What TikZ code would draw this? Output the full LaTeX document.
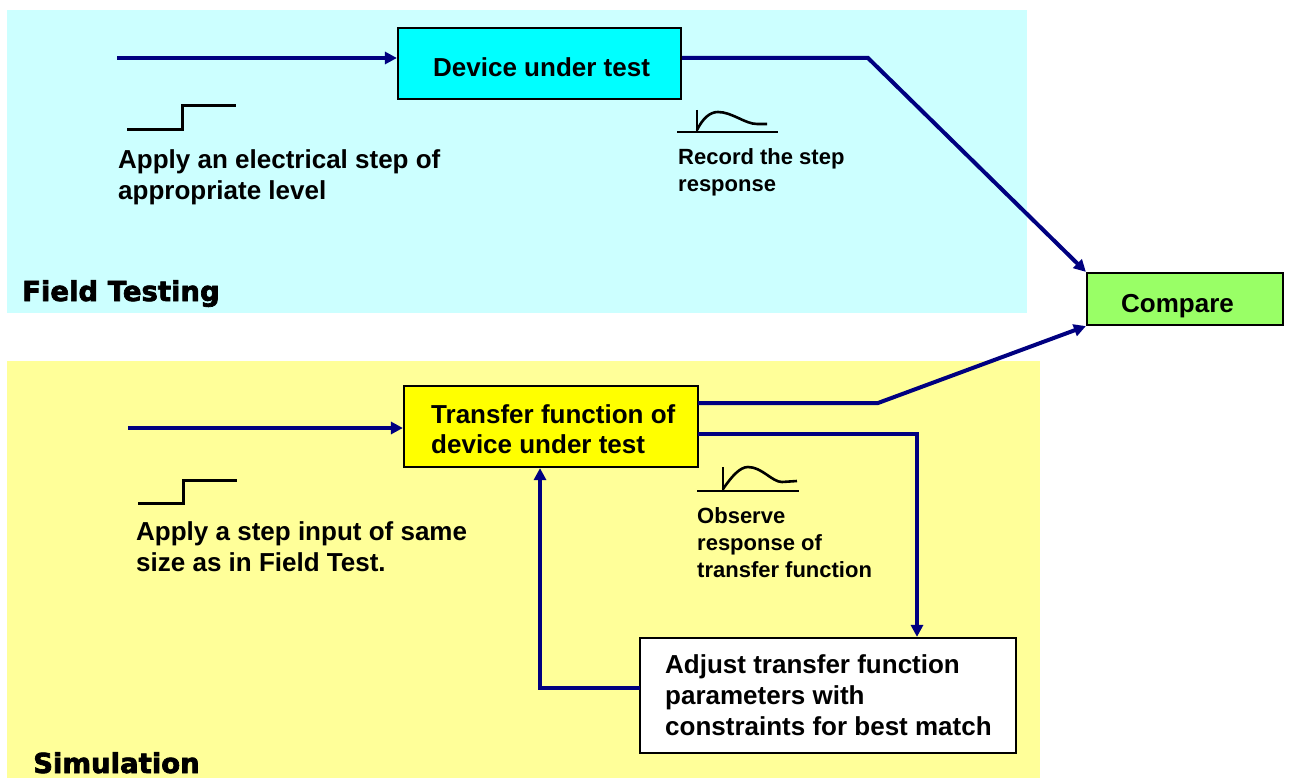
\documentclass[tikz,border=0pt]{standalone}
\usepackage{fontspec}
\setmainfont{Liberation Sans}
\newfontfamily\headfont{DejaVu Sans}[BoldFeatures={FakeBold=2.5}]
\usetikzlibrary{arrows.meta}
\definecolor{cyanbg}{HTML}{CCFFFF}
\definecolor{yellowbg}{HTML}{FFFF99}
\definecolor{dutfill}{HTML}{00FFFF}
\definecolor{tffill}{HTML}{FFFF00}
\definecolor{cmpfill}{HTML}{99FF66}
\definecolor{navy}{HTML}{000080}
\tikzset{
  procbox/.style={draw=black, line width=2.2pt, inner sep=0pt},
  flow/.style={draw=navy, line width=4pt, -{Triangle[length=12pt,width=12pt]}},
  signal/.style={draw=black, line width=3pt},
  resp/.style={draw=black, line width=2.6pt},
  bigtext/.style={font=\bfseries\fontsize{26}{31}\selectfont, inner sep=0pt, align=left, anchor=base west},
  smalltext/.style={font=\bfseries\fontsize{22}{27}\selectfont, inner sep=0pt, align=left, anchor=base west},
  headtext/.style={font=\headfont\bfseries\fontsize{27.5}{32}\selectfont, inner sep=0pt, anchor=base west},
}
\begin{document}
\begin{tikzpicture}[x=1pt,y=-1pt]
\useasboundingbox (0,0) rectangle (1289,778);
\fill[white] (0,0) rectangle (1289,778);
% regions
\fill[cyanbg] (7,10) rectangle (1027,313);
\fill[yellowbg] (7,361) rectangle (1040,778);
% boxes
\node[procbox, fill=dutfill, minimum width=283pt, minimum height=71pt] (dut) at (539.5,63.5) {};
\node[bigtext] (dutt) at (433,77) {Device under test};
\node[procbox, fill=tffill, minimum width=294pt, minimum height=81pt] (tf) at (551,426.5) {};
\node[bigtext, font=\bfseries\fontsize{26}{30}\selectfont] (tft) at (431,453) {Transfer function of\\device under test};
\node[procbox, fill=cmpfill, minimum width=196pt, minimum height=52pt] (cmp) at (1185,299) {};
\node[bigtext] (cmpt) at (1121,312) {Compare};
\node[procbox, fill=white, minimum width=376pt, minimum height=115pt] (adj) at (828,695.5) {};
\node[bigtext] (adjt) at (665,735) {Adjust transfer function\\parameters with\\constraints for best match};
% labels
\node[bigtext] (l1) at (118,199) {Apply an electrical step of\\appropriate level};
\node[smalltext] (l2) at (678,192) {Record the step\\response};
\node[headtext] (fieldt) at (22,301) {Field Testing};
\node[bigtext] (l3) at (136,571) {Apply a step input of same\\size as in Field Test.};
\node[smalltext] (l4) at (697,577) {Observe\\response of\\transfer function};
\node[headtext] (simt) at (33,773) {Simulation};
% coordinates
\coordinate (in1) at (117,58);
\coordinate (b1) at (868,58);
\coordinate (in2) at (128,428);
\coordinate (o2a) at (698,403);
\coordinate (b2) at (878,403);
\coordinate (o2b) at (698,434);
\coordinate (b3) at (917,434);
\coordinate (fb) at (640,688);
\coordinate (b4) at (540,688);
% connectors
\draw[flow] (in1) -- (in1 -| dut.west);
\draw[flow] (dut.east |- b1) -- (b1) -- (cmp.north west);
\draw[flow] (in2) -- (in2 -| tf.west);
\draw[flow] (o2a) -- (b2) -- (cmp.south west);
\draw[flow] (o2b) -- (b3) -- (b3 |- adj.north);
\draw[flow] (fb) -- (b4) -- (b4 |- tf.south);
% step signals
\draw[signal] (127,130) -- (182,130) -- (182,106) -- (236,106);
\draw[signal] (138,503) -- (183,503) -- (183,480) -- (237,480);
% responses
\draw[resp] (677,132) -- (778,132);
\draw[resp] (697,110) -- (697,132);
\draw[resp] (697,130) .. controls (703,118) and (710,112) .. (718,112)
   .. controls (732,112) and (745,124) .. (757,124) -- (767,124);
\draw[resp] (697,491) -- (799,491);
\draw[resp] (723,467) -- (723,491);
\draw[resp] (723,489) .. controls (732,476) and (740,467) .. (748,467)
   .. controls (762,467) and (772,482) .. (782,482) -- (797,481);
\end{tikzpicture}
\end{document}
